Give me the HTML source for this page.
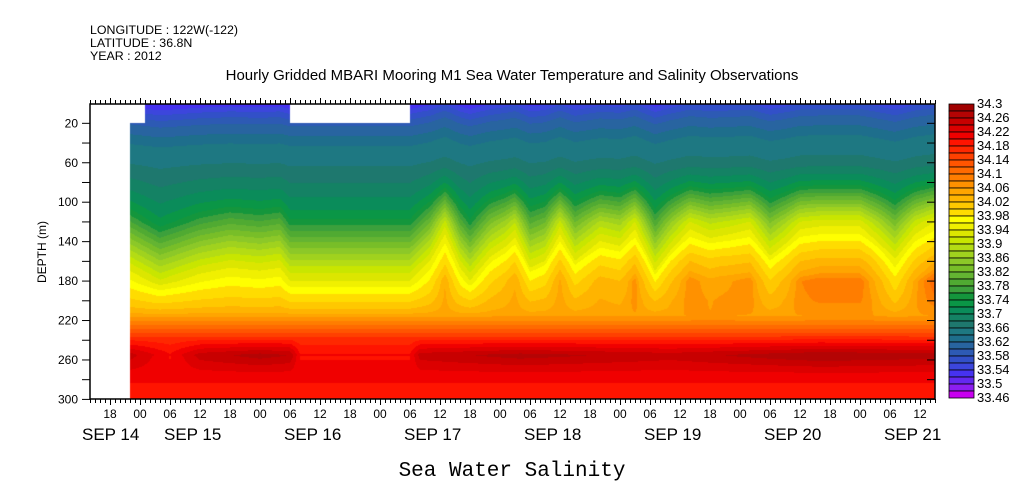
<!DOCTYPE html>
<html><head><meta charset="utf-8">
<style>
body{margin:0;background:#fff;width:1009px;height:504px;overflow:hidden;position:relative;font-family:"Liberation Sans",sans-serif;}
canvas,svg{position:absolute;left:0;top:0;}
</style></head>
<body>
<canvas id="field" width="1009" height="504"></canvas>
<svg id="ov" width="1009" height="504" font-family="Liberation Sans, sans-serif"></svg>
<script>
// ---- data ----
const profileDepths = [0, 10, 20, 40, 60, 80, 100, 120, 140, 160, 180, 195, 210, 225, 240, 255, 270, 290, 300];
const profileValues = [33.53, 33.57, 33.60, 33.64, 33.66, 33.69, 33.73, 33.80, 33.87, 33.93, 33.975, 34.0, 34.03, 34.10, 34.18, 34.25, 34.22, 34.19, 34.18];
// hours since Sep 14 00:00 and vertical shift (m) of halocline
const shiftHours = [22, 28, 32, 36, 42, 48, 52, 54, 78, 82, 85, 88, 90, 94, 97, 99, 102, 105, 108, 111, 116, 120, 123, 127, 130, 134, 138, 142, 146, 150, 153, 156, 160, 164, 168, 172, 175, 179, 183];
const shiftValues = [-5, -22, -15, -8, -2, -5, -2, -15, -15, 5, 32, -2, -15, 9, 19, 29, -2, 5, 32, 5, 25, 20, 37, -5, 15, 37, 28, 32, 37, 10, 22, 37, 40, 40, 40, 22, 7, 32, 45];
const boostHours = [22, 78, 84, 100, 120, 140, 150, 160, 170, 175, 183];
const boostValues = [0, 0, 0.0, 0.01, 0.01, 0.02, 0.01, 0.02, 0.02, 0.0, 0.02];
const coreHours = [22, 30, 36, 48, 54, 56, 78, 80, 100, 130, 150, 160, 183];
const coreValues = [34.25, 34.20, 34.25, 34.27, 34.26, 34.20, 34.20, 34.25, 34.27, 34.25, 34.27, 34.28, 34.27];
const cbLabels = ["34.3","34.26","34.22","34.18","34.14","34.1","34.06","34.02","33.98","33.94","33.9","33.86","33.82","33.78","33.74","33.7","33.66","33.62","33.58","33.54","33.5","33.46"];
const levelColors = ["#a00000","#b40404","#c80000","#dc0000","#f00000","#ff1400","#ff2800","#ff4000","#ff5500","#ff6a00","#ff7d00","#ff9100","#ffa500","#ffb400","#ffc800","#ffdc00","#ffff00","#f0f000","#dce600","#c8e600","#b4dc14","#a0d21e","#8cc828","#78be28","#64b432","#50aa32","#3ca03c","#14963c","#0a9646","#0a8c5a","#148264","#1e786e","#1e7882","#1e6e8c","#2864a0","#2d5ab4","#3250c8","#3c46dc","#4632f0","#6428f0","#8c1ef0","#c800f0"];
const yTicks = [20, 60, 100, 140, 180, 220, 260, 300];
const dayLabels = ["SEP 14","SEP 15","SEP 16","SEP 17","SEP 18","SEP 19","SEP 20","SEP 21"];

// ---- axes ----
const X0 = 90, X1 = 935, Y0 = 104, Y1 = 399;
const H0 = 14, PXH = 5;            // plot starts Sep 14 14:00, 5px/hour
const xOf = h => X0 + (h - H0) * PXH;
const yOf = d => 103.6 + d * 0.986;
const dOf = y => (y - 103.6) / 0.986;
const hOf = x => H0 + (x - X0) / PXH;
function interp(xs, ys, x){
  if (x <= xs[0]) return ys[0];
  for (let i = 1; i < xs.length; i++) if (x <= xs[i]) { const t = (x - xs[i-1]) / (xs[i] - xs[i-1]); return ys[i-1] + t * (ys[i] - ys[i-1]); }
  return ys[ys.length-1];
}
function weight(d){
  if (d < 60) return 0.2;
  if (d < 120) return 0.2 + 0.8 * (d - 60) / 60;
  if (d <= 180) return 1;
  if (d < 215) return 1 - (d - 180) / 35;
  return 0;
}
function bump(d){
  if (d < 130 || d > 225) return 0;
  if (d < 160) return (d - 130) / 30;
  if (d <= 200) return 1;
  return (225 - d) / 25;
}
function colorFor(v){
  let idx = Math.floor((34.30 - v) / 0.02);
  idx = Math.max(0, Math.min(levelColors.length - 1, idx));
  return levelColors[idx];
}
const ctx = document.getElementById('field').getContext('2d');
for (let x = X0; x < X1; x += 1) {
  const h = hOf(x + 0.5);
  if (h < 22) continue;
  const s = interp(shiftHours, shiftValues, h);
  const b = interp(boostHours, boostValues, h);
  const core = interp(coreHours, coreValues, h);
  const topGap = (h < 25) || (h >= 54 && h < 78);
  for (let y = Y0; y < Y1; y += 1) {
    const d = dOf(y + 0.5);
    if (topGap && d < 20) continue;
    let v = interp(profileDepths, profileValues, d + s * weight(d));
    const bb = bump(d) * b;
    if (v > 33.95) v += bb;
    if (d > 235) { const k = Math.max(0, 1 - Math.abs(d - 256) / 20); v += (core - 34.25) * k; }
    ctx.fillStyle = colorFor(v);
    ctx.fillRect(x, y, 1, 1);
  }
}

// ---- overlay ----
const svg = document.getElementById('ov');
const NS = 'http://www.w3.org/2000/svg';
function mk(tag, attrs, text){
  const e = document.createElementNS(NS, tag);
  for (const k in attrs) e.setAttribute(k, attrs[k]);
  if (text !== undefined) e.textContent = text;
  svg.appendChild(e);
  return e;
}
let e;
e = mk('rect', {x:X0, y:Y0, width:X1-X0, height:Y1-Y0, fill:'none', stroke:'#000', 'stroke-width':1.5});


for (let h = H0; h <= H0 + 169; h++) {
  const x = xOf(h) + 0.5;
  const major = (h % 6 === 0);
  const len = major ? 6 : 4;
  mk('line', {x1:x, y1:Y0, x2:x, y2:Y0 - len, stroke:'#000', 'stroke-width':1});
  mk('line', {x1:x, y1:Y1, x2:x, y2:Y1 + len, stroke:'#000', 'stroke-width':1});
  if (major && h >= 18) {
    e = mk('text', {x:xOf(h), y:418, 'font-size':12, 'text-anchor':'middle'}, String(h % 24).padStart(2, '0'));
    
    
  }
}
dayLabels.forEach((lab, i) => {
  e = mk('text', {x: i === 0 ? 82 : xOf(24 * i) + 24, y:440, 'font-size':17}, lab);
  
  
});
for (let d = 20; d <= 300; d += 20) {
  const y = yOf(d);
  mk('line', {x1:X0, y1:y, x2:X0 - 8, y2:y, stroke:'#000'});
  mk('line', {x1:X1, y1:y, x2:X1 - 8, y2:y, stroke:'#000'});
}
yTicks.forEach(t => {
  e = mk('text', {x:78, y:yOf(t) + 4, 'font-size':12, 'text-anchor':'end'}, String(t));
  
  
});
e = mk('text', {x:0, y:0, 'font-size':12, 'text-anchor':'middle', transform:'translate(46,252) rotate(-90)'}, 'DEPTH (m)');


[['LONGITUDE : 122W(-122)', 34], ['LATITUDE : 36.8N', 47], ['YEAR : 2012', 60]].forEach(([t, y]) => {
  e = mk('text', {x:90, y:y, 'font-size':12.4}, t);
  
  
});
e = mk('text', {x:512, y:80, 'font-size':15, 'text-anchor':'middle'}, 'Hourly Gridded MBARI Mooring M1 Sea Water Temperature and Salinity Observations');


e = mk('text', {x:512, y:476, 'font-size':21, 'text-anchor':'middle', 'font-family':'Liberation Mono, monospace'}, 'Sea Water Salinity');


const CB0 = 104, CBH = 294 / levelColors.length;
levelColors.forEach((c, i) => {
  e = mk('rect', {x:949, y:CB0 + i * CBH, width:25, height:CBH, fill:c, stroke:'#000', 'stroke-width':0.8});
  
  
});
cbLabels.forEach((t, i) => {
  e = mk('text', {x:977, y:CB0 + i * 2 * CBH + 4, 'font-size':13}, t);
  
  
});
</script>
</body></html>
